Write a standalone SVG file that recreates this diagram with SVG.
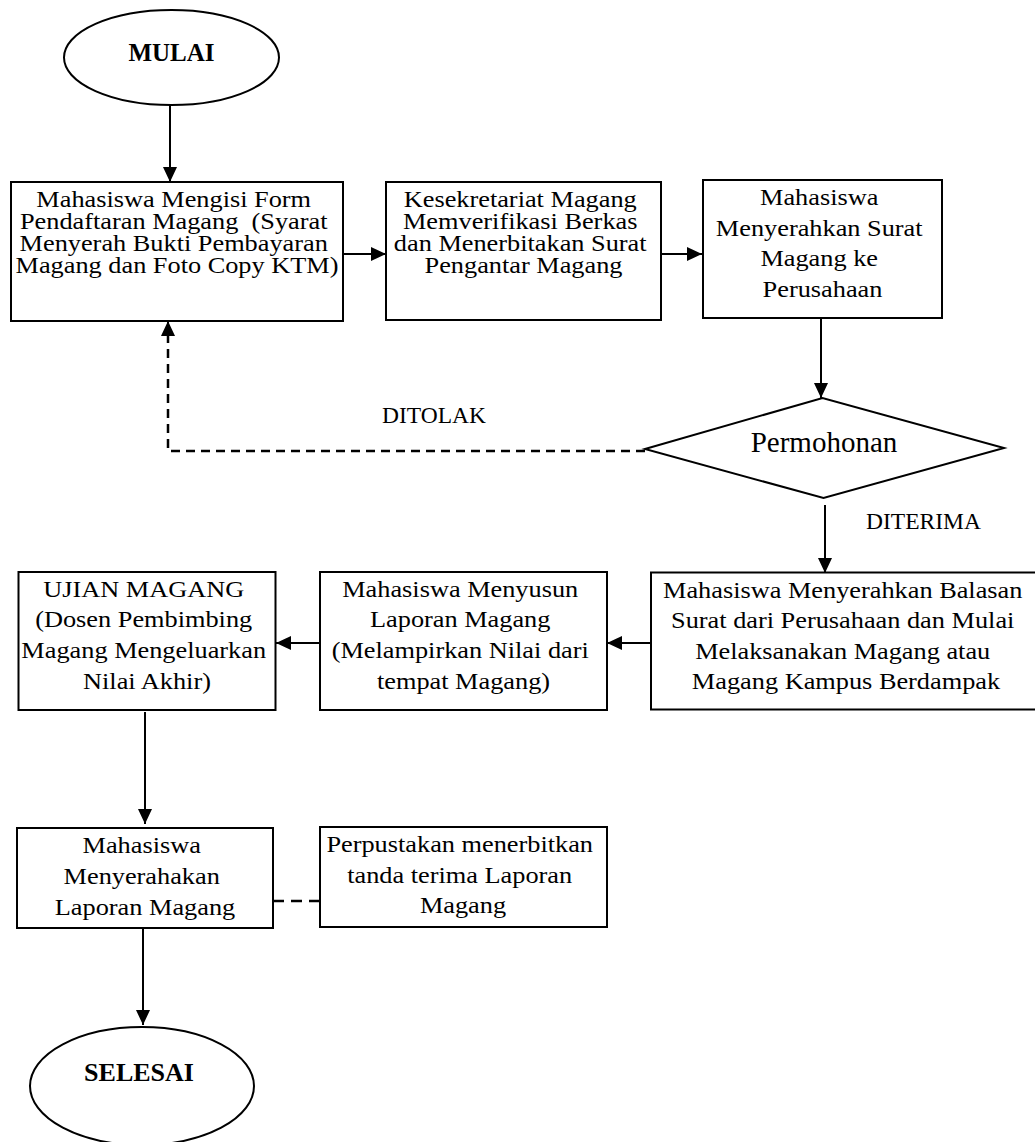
<svg xmlns="http://www.w3.org/2000/svg" width="1035" height="1142" viewBox="0 0 1035 1142">
<style>
.box{fill:#fff;stroke:#000;stroke-width:2}
.t{font-family:"Liberation Serif","Times New Roman",serif;font-size:22.5px;fill:#000;text-anchor:middle}
.lbl{font-family:"Liberation Serif","Times New Roman",serif;font-size:23.5px;fill:#000;text-anchor:middle}
.dec{font-family:"Liberation Serif","Times New Roman",serif;font-size:29px;fill:#000;text-anchor:middle}
.bold{font-family:"Liberation Serif","Times New Roman",serif;font-weight:bold;fill:#000;text-anchor:middle}
.ln{fill:none;stroke:#000;stroke-width:2}
.dash{fill:none;stroke:#000;stroke-width:2.5;stroke-dasharray:9 6}
</style>
<defs>
<marker id="ah" viewBox="0 0 15 14" refX="15" refY="7" markerWidth="15" markerHeight="14" markerUnits="userSpaceOnUse" orient="auto">
<path d="M0,0 L15,7 L0,14 Z" fill="#000"/>
</marker>
</defs>
<rect width="1035" height="1142" fill="#fff"/>

<g id="mulai">
<ellipse cx="171.5" cy="57.5" rx="107.5" ry="47.5" class="box"/>
<text class="bold" x="171.5" y="61" font-size="25">MULAI</text>
</g>

<g id="box1">
<rect x="11" y="182" width="332" height="139" class="box"/>
<text class="t" transform="translate(177,0) scale(1.17,1)">
<tspan x="0" y="207">Mahasiswa Mengisi Form</tspan>
<tspan x="0" y="229">Pendaftaran Magang&#160; (Syarat</tspan>
<tspan x="0" y="251">Menyerah Bukti Pembayaran</tspan>
<tspan x="0" y="273">Magang dan Foto Copy KTM)</tspan>
</text>
</g>

<g id="box2">
<rect x="386" y="182" width="275" height="138" class="box"/>
<text class="t" transform="translate(523.5,0) scale(1.17,1)">
<tspan x="0" y="207">Kesekretariat Magang</tspan>
<tspan x="0" y="229">Memverifikasi Berkas</tspan>
<tspan x="0" y="251">dan Menerbitakan Surat</tspan>
<tspan x="0" y="273">Pengantar Magang</tspan>
</text>
</g>

<g id="box3">
<rect x="703" y="180" width="239" height="138" class="box"/>
<text class="t" transform="translate(822.5,0) scale(1.17,1)">
<tspan x="0" y="205.5">Mahasiswa</tspan>
<tspan x="0" y="236">Menyerahkan Surat</tspan>
<tspan x="0" y="266.5">Magang ke</tspan>
<tspan x="0" y="297">Perusahaan</tspan>
</text>
</g>

<g id="decision">
<polygon points="645,449 822.5,398 1004,448 823.5,498" class="box"/>
<text class="dec" x="824" y="452">Permohonan</text>
</g>

<g id="box4">
<rect x="651" y="572.5" width="386" height="137" class="box"/>
<text class="t" transform="translate(846,0) scale(1.17,1)">
<tspan x="0" y="598">Mahasiswa Menyerahkan Balasan</tspan>
<tspan x="0" y="628.5">Surat dari Perusahaan dan Mulai</tspan>
<tspan x="0" y="659">Melaksanakan Magang atau</tspan>
<tspan x="0" y="689.5">Magang Kampus Berdampak</tspan>
</text>
</g>

<g id="box5">
<rect x="320" y="572" width="287" height="138" class="box"/>
<text class="t" transform="translate(463.5,0) scale(1.17,1)">
<tspan x="0" y="597.5">Mahasiswa Menyusun</tspan>
<tspan x="0" y="627.5">Laporan Magang</tspan>
<tspan x="0" y="658">(Melampirkan Nilai dari</tspan>
<tspan x="0" y="689">tempat Magang)</tspan>
</text>
</g>

<g id="box6">
<rect x="18.5" y="572" width="257" height="138" class="box"/>
<text class="t" transform="translate(147,0) scale(1.17,1)">
<tspan x="0" y="597.5">UJIAN MAGANG</tspan>
<tspan x="0" y="627.5">(Dosen Pembimbing</tspan>
<tspan x="0" y="658">Magang Mengeluarkan</tspan>
<tspan x="0" y="689">Nilai Akhir)</tspan>
</text>
</g>

<g id="box7">
<rect x="17" y="828" width="256" height="100" class="box"/>
<text class="t" transform="translate(145,0) scale(1.17,1)">
<tspan x="0" y="853">Mahasiswa</tspan>
<tspan x="0" y="884.5">Menyerahakan</tspan>
<tspan x="0" y="915">Laporan Magang</tspan>
</text>
</g>

<g id="box8">
<rect x="320" y="827" width="287" height="100" class="box"/>
<text class="t" transform="translate(463,0) scale(1.17,1)">
<tspan x="0" y="852.5">Perpustakan menerbitkan</tspan>
<tspan x="0" y="883">tanda terima Laporan</tspan>
<tspan x="0" y="913.5">Magang</tspan>
</text>
</g>

<g id="selesai">
<ellipse cx="142" cy="1086" rx="112" ry="59" class="box"/>
<text class="bold" x="139" y="1081" font-size="26">SELESAI</text>
</g>

<g id="connectors">
<line x1="170" y1="105" x2="170" y2="182" class="ln" marker-end="url(#ah)"/>
<line x1="343" y1="254" x2="386" y2="254" class="ln" marker-end="url(#ah)"/>
<line x1="661" y1="254" x2="702" y2="254" class="ln" marker-end="url(#ah)"/>
<line x1="821" y1="318" x2="821" y2="398" class="ln" marker-end="url(#ah)"/>
<polyline points="645,451 168,451 168,336" class="dash"/>
<line x1="168" y1="338" x2="168" y2="321" class="ln" marker-end="url(#ah)"/>
<line x1="825" y1="505" x2="825" y2="573" class="ln" marker-end="url(#ah)"/>
<line x1="651" y1="643" x2="607" y2="643" class="ln" marker-end="url(#ah)"/>
<line x1="320" y1="643" x2="276" y2="643" class="ln" marker-end="url(#ah)"/>
<line x1="145" y1="712" x2="145" y2="824" class="ln" marker-end="url(#ah)"/>
<line x1="273" y1="901" x2="320" y2="901" class="dash" style="stroke-dasharray:11 7"/>
<line x1="143" y1="928" x2="143" y2="1025" class="ln" marker-end="url(#ah)"/>
<text class="lbl" x="434" y="423">DITOLAK</text>
<text class="lbl" x="923.5" y="529">DITERIMA</text>
</g>
</svg>
